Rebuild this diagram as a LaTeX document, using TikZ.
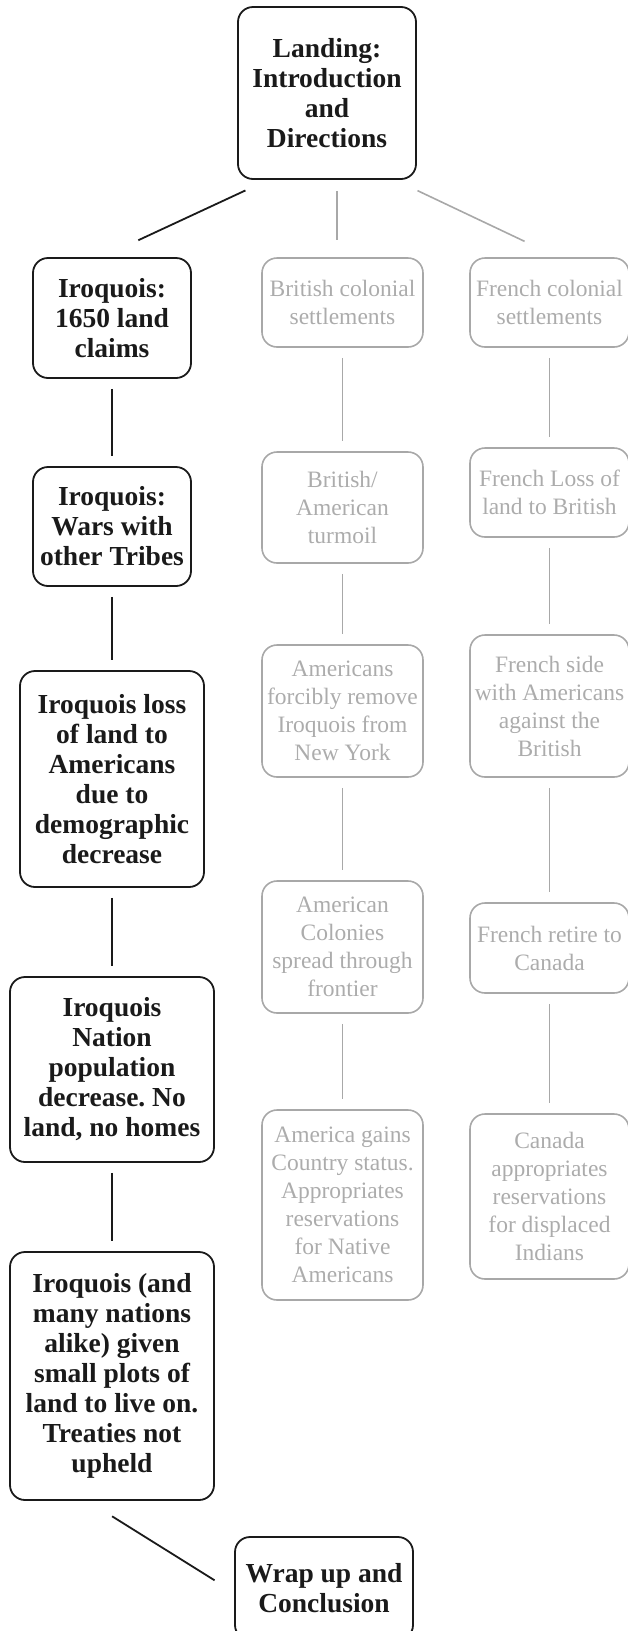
\documentclass[tikz,border=0pt]{standalone}
\usepackage{fontspec}
\setmainfont{Liberation Serif}
\usetikzlibrary{positioning,calc}
\frenchspacing
\definecolor{ink}{RGB}{26,26,26}
\definecolor{faded}{RGB}{168,168,168}
\definecolor{fadedtext}{RGB}{172,172,172}
\tikzset{
  mainbox/.style={draw=ink, line width=1.8pt, rounded corners=15pt, align=center, text=ink,
                  font=\fontsize{27.5}{30}\selectfont\bfseries, inner sep=0pt},
  sidebox/.style={draw=faded, line width=1.6pt, rounded corners=15pt, align=center, text=fadedtext,
                  font=\fontsize{23.5}{28}\selectfont, inner sep=0pt},
  link/.style={draw=ink, line width=1.8pt, shorten <=10pt, shorten >=10pt},
  glink/.style={draw=faded, line width=1.6pt, shorten <=10pt, shorten >=10pt},
}

\begin{document}
\begin{tikzpicture}[x=1pt, y=-1pt]
  \useasboundingbox (0,0) rectangle (628,1631);

  % top and bottom
  \node[mainbox, minimum width=178pt, minimum height=172pt] (land) at (327,93)
    {Landing:\\Introduction\\and\\Directions};
  \node[mainbox, minimum width=178pt, minimum height=103pt] (wrap) at (324,1588.5)
    {Wrap up and\\Conclusion};

  % Iroquois column
  \node[mainbox, minimum width=158pt, minimum height=120pt] (iro1) at (112,318)
    {Iroquois:\\1650 land\\claims};
  \node[mainbox, minimum width=158pt, minimum height=119pt] (iro2) at (112,526.5)
    {Iroquois:\\Wars with\\other Tribes};
  \node[mainbox, minimum width=184pt, minimum height=216pt] (iro3) at (112,779)
    {Iroquois loss\\of land to\\Americans\\due to\\demographic\\decrease};
  \node[mainbox, minimum width=204pt, minimum height=185pt] (iro4) at (112,1069.5)
    {Iroquois\\Nation\\population\\decrease. No\\land, no homes};
  \node[mainbox, minimum width=204pt, minimum height=248pt] (iro5) at (112,1376)
    {Iroquois (and\\many nations\\alike) given\\small plots of\\land to live on.\\Treaties not\\upheld};

  % British column
  \node[sidebox, minimum width=161pt, minimum height=89pt] (brit1) at (342.5,302.5)
    {British colonial\\settlements};
  \node[sidebox, minimum width=161pt, minimum height=111pt] (brit2) at (342.5,507.5)
    {British/\\American\\turmoil};
  \node[sidebox, minimum width=161pt, minimum height=132pt] (brit3) at (342.5,711)
    {Americans\\forcibly remove\\Iroquois from\\New York};
  \node[sidebox, minimum width=161pt, minimum height=132pt] (brit4) at (342.5,947)
    {American\\Colonies\\spread through\\frontier};
  \node[sidebox, minimum width=161pt, minimum height=190pt] (brit5) at (342.5,1205)
    {America gains\\Country status.\\Appropriates\\reservations\\for Native\\Americans};

  % French column
  \node[sidebox, minimum width=159pt, minimum height=89pt] (fr1) at (549.5,302.5)
    {French colonial\\settlements};
  \node[sidebox, minimum width=159pt, minimum height=89pt] (fr2) at (549.5,492.5)
    {French Loss of\\land to British};
  \node[sidebox, minimum width=159pt, minimum height=142pt] (fr3) at (549.5,706)
    {French side\\with Americans\\against the\\British};
  \node[sidebox, minimum width=159pt, minimum height=90pt] (fr4) at (549.5,948)
    {French retire to\\Canada};
  \node[sidebox, minimum width=159pt, minimum height=165pt] (fr5) at (549.5,1196.5)
    {Canada\\appropriates\\reservations\\for displaced\\Indians};

  % branches
  \draw[link, shorten <=25pt, shorten >=40pt] ([xshift=31pt]land.south west) -- ([xshift=-10pt]iro1.north);
  \draw[glink, shorten <=11pt, shorten >=17pt] ([xshift=10pt]land.south) -- ([xshift=10pt]land.south |- brit1.north);
  \draw[glink, shorten <=25pt, shorten >=37pt] ([xshift=-22pt]land.south east) -- ([xshift=8.5pt]fr1.north);

  \foreach \a/\b in {iro1/iro2, iro2/iro3, iro3/iro4, iro4/iro5}
    \draw[link] (\a.south) -- (\b.north);
  \foreach \a/\b in {brit1/brit2, brit2/brit3, brit3/brit4, brit4/brit5, fr1/fr2, fr2/fr3, fr3/fr4, fr4/fr5}
    \draw[glink] (\a.south) -- (\b.north);

  \draw[link, shorten <=29pt, shorten >=23pt] ([xshift=-24.5pt]iro5.south) -- ([yshift=-4pt]wrap.west);
\end{tikzpicture}
\end{document}
